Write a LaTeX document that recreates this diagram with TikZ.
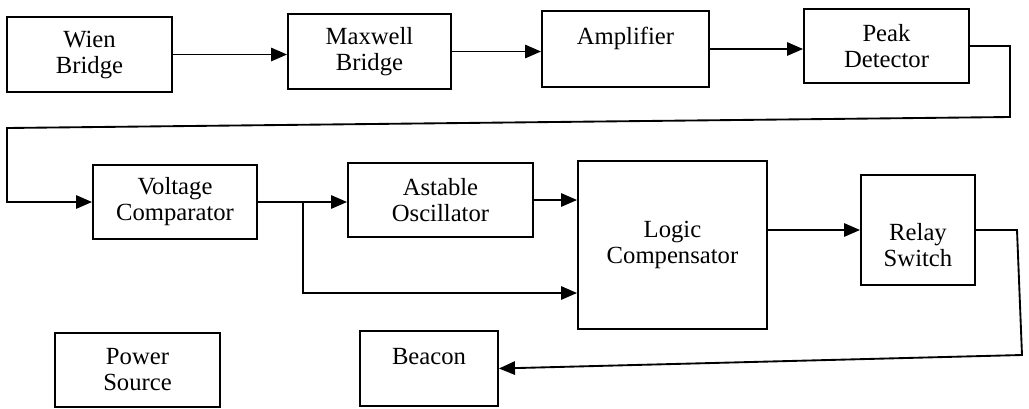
\documentclass[tikz,border=0pt]{standalone}
\usepackage{fontspec}
\setmainfont{Liberation Serif}
\usetikzlibrary{arrows.meta}
\begin{document}
\begin{tikzpicture}[x=0.75pt,y=-0.75pt,
  txt/.style={font=\fontsize{18.5}{19.5}\selectfont, align=center},
  box/.style={draw, line width=1.4pt, inner sep=0pt, txt},
  arr/.style={line width=1.4pt, -{Triangle[length=12pt,width=10pt]}},
  ln/.style={line width=1.4pt}]
\useasboundingbox[fill=white] (0,0) rectangle (1029,408);
% top row
\node[box, minimum width=123.75pt, minimum height=56.25pt] (wien) at (89.5,54.5) {Wien\\Bridge};
\node[box, minimum width=122.25pt, minimum height=56.25pt] (maxwell) at (369.5,51.5) {Maxwell\\Bridge};
\node[box, minimum width=125.25pt, minimum height=57pt,
      label={[txt, yshift=8.25pt]center:Amplifier}] (amp) at (625.5,49) {};
\node[box, minimum width=123.75pt, minimum height=55.5pt] (peak) at (886.5,46) {Peak\\Detector};
% middle row
\node[box, minimum width=123pt, minimum height=55.5pt] (vc) at (175,202) {Voltage\\Comparator};
\node[box, minimum width=138.75pt, minimum height=55.5pt] (ast) at (440.5,200) {Astable\\Oscillator};
\node[box, minimum width=141.75pt, minimum height=126pt] (logic) at (672.5,245) {Logic\\Compensator};
\node[box, minimum width=85.5pt, minimum height=82.5pt,
      label={[txt, yshift=-11.25pt]center:Relay\\Switch}] (relay) at (918,230) {};
% bottom row
\node[box, minimum width=123.75pt, minimum height=55.5pt] (power) at (137.5,370) {Power\\Source};
\node[box, minimum width=103.5pt, minimum height=56.25pt,
      label={[txt, yshift=8.6pt]center:Beacon}] (beacon) at (429,368.5) {};
% corner coordinates
\coordinate (c1) at (1010,46);
\coordinate (c2) at (1010,117);
\coordinate (c3) at (7,128);
\coordinate (c4) at (7,202);
\coordinate (br) at (303,202);
\coordinate (c5) at (303,293);
\coordinate (c6) at (1017,230);
\coordinate (c7) at (1022,355);
% connectors
\draw[arr] (wien.east) -- (wien.east -| maxwell.west);
\draw[arr] (maxwell.east) -- (maxwell.east -| amp.west);
\draw[arr] (amp.east) -- (amp.east -| peak.west);
\draw[arr] (peak.east) -- (c1) -- (c2) -- (c3) -- (c4) -- (c4 -| vc.west);
\draw[arr] (vc.east) -- (vc.east -| ast.west);
\draw[arr] (br) -- (c5) -- (c5 -| logic.west);
\draw[arr] (ast.east) -- (ast.east -| logic.west);
\draw[arr] (relay.west -| logic.east) -- (relay.west);
\draw[arr] (relay.east) -- (c6) -- (c7) -- (beacon.east);
\end{tikzpicture}
\end{document}
